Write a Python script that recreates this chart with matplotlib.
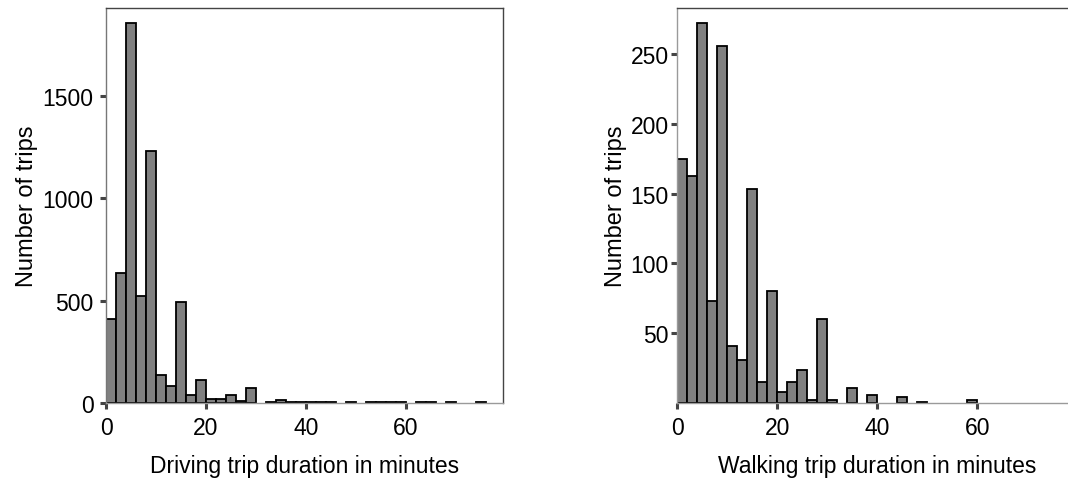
import numpy as np
import matplotlib
matplotlib.use("Agg")
import matplotlib.pyplot as plt

plt.rcParams['font.family'] = ['Liberation Sans', 'DejaVu Sans']

# 2-minute bins starting at 0
bin_width = 2
driving_counts = [410, 635, 1857, 521, 1230, 138, 81, 492, 41, 114,
                  20, 20, 41, 8, 73, 0, 5, 15, 6, 6,
                  6, 6, 6, 0, 5, 0, 5, 5, 5, 5,
                  0, 5, 5, 0, 5, 0, 0, 5]
walking_counts = [175, 163, 272, 73, 256, 41, 31, 153, 15, 80,
                  8, 15, 24, 2, 60, 2, 0, 11, 0, 6,
                  0, 0, 4, 0, 1, 0, 0, 0, 0, 2]

driving_yticks = [0, 500, 1000, 1500]
walking_yticks = [50, 100, 150, 200, 250]
xticks = [0, 20, 40, 60]

dark = '#444444'
light = '#9a9a9a'
fsize = 16.5

fig = plt.figure(figsize=(10.68, 4.85), dpi=100)
ax1 = fig.add_axes([0.0993, 0.167, 0.3717, 0.8144])
ax2 = fig.add_axes([0.6342, 0.167, 0.3745, 0.8144])


def draw_hist(ax, counts):
    counts = np.array(counts)
    lefts = np.arange(len(counts)) * bin_width
    keep = counts > 0
    ax.bar(lefts[keep], counts[keep], width=bin_width, align='edge',
           color='#808080', edgecolor='black', linewidth=1.3)


draw_hist(ax1, driving_counts)
draw_hist(ax2, walking_counts)

ax1.set_xlim(0, 79.4)
ax1.set_ylim(0, 1930)
ax1.set_yticks(driving_yticks)
ax2.set_xlim(0, 80)
ax2.set_ylim(0, 283)
ax2.set_yticks(walking_yticks)

for ax in (ax1, ax2):
    ax.set_xticks(xticks)
    ax.tick_params(direction='out', length=4.5, width=2.2, color=dark,
                   labelsize=fsize, pad=1.5)
    ax.tick_params(axis='x', pad=5)
    for s in ax.spines.values():
        s.set_linewidth(1.0)
    ax.spines['bottom'].set_color(light)

ax1.tick_params(axis='y', pad=4.5)
ax1.set_ylabel('Number of trips', fontsize=17, labelpad=3)
ax2.set_ylabel('Number of trips', fontsize=17, labelpad=3)

ax1.spines['left'].set_color('#777777')
ax1.spines['top'].set_color(dark)
ax1.spines['right'].set_color(dark)
ax2.spines['left'].set_color(light)
ax2.spines['top'].set_color(dark)
ax2.spines['right'].set_visible(False)

ax1.set_xlabel('Driving trip duration in minutes', fontsize=fsize, labelpad=11)
ax2.set_xlabel('Walking trip duration in minutes', fontsize=fsize, labelpad=11)

fig.savefig('out.png', dpi=100)
